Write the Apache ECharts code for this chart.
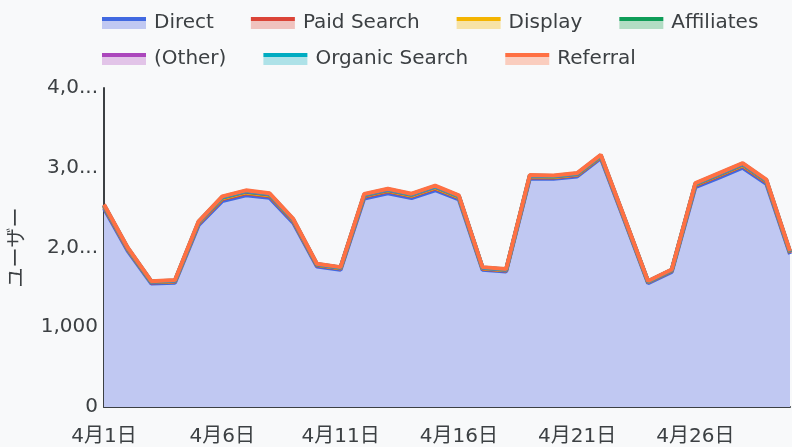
<!DOCTYPE html>
<html>
<head>
<meta charset="utf-8">
<script src="https://cdn.jsdelivr.net/npm/echarts@6/dist/echarts.min.js"></script>
<style>
  html, body { margin: 0; padding: 0; background: #f8f9fa; }
  #chart { width: 792px; height: 447px; }
</style>
</head>
<body>
<div id="chart"></div>
<script>
// Daily users by channel, April
const days = ['4月1日','4月2日','4月3日','4月4日','4月5日','4月6日','4月7日','4月8日','4月9日','4月10日',
  '4月11日','4月12日','4月13日','4月14日','4月15日','4月16日','4月17日','4月18日','4月19日','4月20日',
  '4月21日','4月22日','4月23日','4月24日','4月25日','4月26日','4月27日','4月28日','4月29日','4月30日'];

const direct = [2489,1959,1548,1558,2280,2583,2656,2623,2309,1761,
  1720,2615,2680,2621,2718,2603,1720,1698,2864,2861,
  2891,3121,2341,1552,1694,2757,2876,3000,2798,1916];
const paidSearch = [22,18,14,15,20,24,25,24,21,16,15,23,24,23,24,22,15,14,18,17,17,16,14,12,14,22,24,25,23,16];
const display = [8,6,4,5,8,9,10,9,7,5,5,9,9,8,9,8,5,4,7,7,6,6,5,4,4,8,9,9,8,6];
const affiliates = [7,6,4,4,7,9,9,8,7,5,5,8,8,8,8,7,5,5,6,6,6,6,5,3,4,7,8,8,7,5];
const other = [3,2,1,2,3,3,4,3,3,2,2,3,3,3,3,3,2,1,2,2,2,2,2,1,2,3,3,3,3,2];
const organicSearch = [5,4,3,3,5,6,6,6,5,3,3,6,6,5,6,5,3,3,5,5,5,5,4,3,3,5,6,6,5,4];
const referral = [6,5,4,4,6,7,7,7,6,4,4,7,7,7,7,6,4,4,6,6,6,6,5,4,4,6,7,7,6,5];

const yTickValues = [0, 1000, 2000, 3000, 4000];
const yTickLabels = ['0', '1,000', '2,0...', '3,0...', '4,0...'];

const seriesDefs = [
  { name: 'Direct',         data: direct,        line: '#4169e1', fill: '#c0c8f2' },
  { name: 'Paid Search',    data: paidSearch,    line: '#db4437', fill: '#f0c2be' },
  { name: 'Display',        data: display,       line: '#f4b400', fill: '#f7e3a6' },
  { name: 'Affiliates',     data: affiliates,    line: '#0f9d58', fill: '#b2ddc4' },
  { name: '(Other)',        data: other,         line: '#ab47bc', fill: '#e2c4e8' },
  { name: 'Organic Search', data: organicSearch, line: '#00acc1', fill: '#aee2e8' },
  { name: 'Referral',       data: referral,      line: '#ff7043', fill: '#facdbe' }
];

const textColor = '#3c4043';
const fontFamily = '"DejaVu Sans", "Noto Sans CJK JP", sans-serif';

function legendIcon(def) {
  return {
    name: def.name,
    itemStyle: {
      color: new echarts.graphic.LinearGradient(0, 0, 0, 1, [
        { offset: 0, color: def.line },
        { offset: 0.32, color: def.line },
        { offset: 0.32, color: def.fill },
        { offset: 1, color: def.fill }
      ]),
      borderWidth: 0
    }
  };
}

const legendCommon = {
  icon: 'rect',
  itemWidth: 44,
  itemHeight: 12,
  itemGap: 37,
  orient: 'horizontal',
  left: 102,
  padding: 0,
  textStyle: { color: textColor, fontSize: 20, fontFamily: fontFamily, padding: [0, 0, 0, 3] },
  selectedMode: false
};

const chart = echarts.init(document.getElementById('chart'), null, { renderer: 'canvas' });

chart.setOption({
  backgroundColor: '#f8f9fa',
  animation: false,
  legend: [
    Object.assign({}, legendCommon, { top: 13, data: seriesDefs.slice(0, 4).map(legendIcon) }),
    Object.assign({}, legendCommon, { top: 49, data: seriesDefs.slice(4).map(legendIcon) })
  ],
  grid: { left: 103, right: 2, top: 88, bottom: 39, containLabel: false },
  xAxis: {
    type: 'category',
    data: days,
    boundaryGap: false,
    axisLine: { show: true, lineStyle: { color: textColor, width: 2 } },
    axisTick: { show: false },
    axisLabel: {
      interval: 4,
      color: textColor,
      fontSize: 20,
      fontFamily: fontFamily,
      margin: 20
    },
    splitLine: { show: false }
  },
  yAxis: {
    type: 'value',
    min: 0,
    max: 4000,
    interval: 1000,
    name: 'ユーザー',
    nameLocation: 'middle',
    nameRotate: 90,
    nameGap: 76,
    nameTextStyle: { color: textColor, fontSize: 20, fontFamily: fontFamily },
    axisLine: { show: true, lineStyle: { color: textColor, width: 2 } },
    axisTick: { show: false },
    splitLine: { show: false },
    axisLabel: {
      color: textColor,
      fontSize: 20,
      fontFamily: fontFamily,
      margin: 6,
      formatter: function (v) {
        const i = yTickValues.indexOf(v);
        return i >= 0 ? yTickLabels[i] : '';
      }
    }
  },
  series: seriesDefs.map(function (def) {
    return {
      name: def.name,
      type: 'line',
      stack: 'users',
      data: def.data,
      symbol: 'none',
      smooth: false,
      lineStyle: { color: def.line, width: 4 },
      itemStyle: { color: def.line },
      areaStyle: { color: def.fill, opacity: 1 },
      emphasis: { disabled: true }
    };
  })
});
</script>
</body>
</html>
